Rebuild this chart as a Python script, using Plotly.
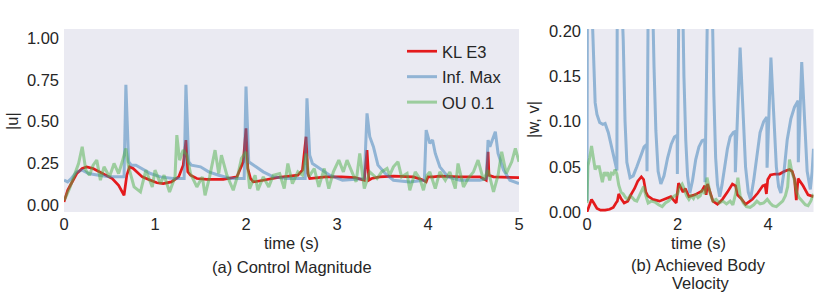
import plotly.graph_objects as go

# ---------------- data ----------------
# (a) Control magnitude |u|
kl_t = [0, 0.01, 0.04, 0.07, 0.14, 0.2, 0.25, 0.32, 0.43, 0.53, 0.6, 0.66, 0.69, 0.72, 0.76,
        0.8, 0.86, 0.95, 1.02, 1.09, 1.18, 1.26, 1.31, 1.34, 1.36, 1.39, 1.46, 1.57, 1.75, 1.9,
        1.97, 2.0, 2.02, 2.05, 2.08, 2.19, 2.34, 2.57, 2.62, 2.66, 2.68, 2.7, 2.76, 2.87, 3.05,
        3.2, 3.3, 3.33, 3.35, 3.38, 3.47, 3.62, 3.84, 3.93, 3.98, 4.0, 4.01, 4.06, 4.13, 4.35,
        4.57, 4.64, 4.66, 4.67, 4.72, 5.0]
kl_u = [0.02, 0.04, 0.09, 0.12, 0.19, 0.22, 0.23, 0.22, 0.19, 0.16, 0.12, 0.06, 0.18, 0.23, 0.22,
        0.2, 0.17, 0.15, 0.135, 0.13, 0.14, 0.17, 0.24, 0.39, 0.2, 0.18, 0.16, 0.155, 0.155, 0.17,
        0.26, 0.46, 0.22, 0.16, 0.14, 0.15, 0.165, 0.18, 0.21, 0.41, 0.19, 0.16, 0.165, 0.17, 0.17,
        0.165, 0.15, 0.33, 0.15, 0.16, 0.17, 0.175, 0.17, 0.155, 0.14, 0.17, 0.17, 0.17, 0.175, 0.17,
        0.17, 0.15, 0.32, 0.18, 0.17, 0.165]

im_t = [0, 0.04, 0.08, 0.14, 0.2, 0.27, 0.38, 0.5, 0.66, 0.68, 0.71, 0.74, 0.79, 0.86, 0.95,
        1.06, 1.2, 1.32, 1.34, 1.37, 1.40, 1.5, 1.59, 1.7, 1.83, 1.98, 2.0, 2.03, 2.06, 2.11,
        2.19, 2.3, 2.45, 2.65, 2.67, 2.70, 2.73, 2.81, 2.92, 3.06, 3.3, 3.33, 3.36, 3.40, 3.45,
        3.53, 3.62, 3.8, 3.96, 3.98, 4.02, 4.05, 4.08, 4.13, 4.22, 4.35, 4.57, 4.64, 4.66, 4.68,
        4.74, 4.77, 4.83, 4.9, 5.0]
im_u = [0.15, 0.14, 0.16, 0.2, 0.21, 0.19, 0.18, 0.17, 0.17, 0.72, 0.26, 0.24, 0.24, 0.22, 0.19,
        0.17, 0.16, 0.16, 0.72, 0.26, 0.24, 0.23, 0.2, 0.18, 0.16, 0.16, 0.71, 0.26, 0.25, 0.23,
        0.2, 0.17, 0.16, 0.16, 0.64, 0.3, 0.25, 0.22, 0.18, 0.15, 0.16, 0.55, 0.41, 0.35, 0.24,
        0.19, 0.15, 0.14, 0.15, 0.45, 0.37, 0.39, 0.31, 0.23, 0.17, 0.15, 0.15, 0.16, 0.39, 0.35,
        0.44, 0.31, 0.21, 0.15, 0.13]

ou_t = [0, 0.02, 0.06, 0.11, 0.16, 0.2, 0.24, 0.28, 0.32, 0.36, 0.4, 0.44, 0.5, 0.55, 0.6,
        0.64, 0.68, 0.71, 0.77, 0.84, 0.9, 0.97, 1.0, 1.06, 1.1, 1.16, 1.22, 1.24, 1.27, 1.31,
        1.35, 1.39, 1.46, 1.52, 1.55, 1.6, 1.66, 1.7, 1.73, 1.79, 1.86, 1.91, 1.95, 2.0, 2.04,
        2.1, 2.13, 2.19, 2.25, 2.3, 2.37, 2.42, 2.46, 2.51, 2.57, 2.62, 2.66, 2.69, 2.75, 2.8,
        2.86, 2.91, 2.96, 3.02, 3.07, 3.11, 3.16, 3.21, 3.25, 3.3, 3.36, 3.44, 3.49, 3.55, 3.58,
        3.62, 3.67, 3.71, 3.77, 3.8, 3.86, 3.91, 3.95, 3.99, 4.02, 4.08, 4.13, 4.19, 4.24, 4.3,
        4.33, 4.39, 4.44, 4.5, 4.55, 4.61, 4.66, 4.72, 4.77, 4.81, 4.86, 4.92, 4.96, 5.0]
ou_u = [0.03, 0.05, 0.1, 0.17, 0.25, 0.35, 0.21, 0.18, 0.24, 0.27, 0.15, 0.23, 0.17, 0.25, 0.19,
        0.26, 0.34, 0.23, 0.11, 0.08, 0.21, 0.11, 0.21, 0.13, 0.18, 0.08, 0.17, 0.42, 0.27, 0.33,
        0.3, 0.19, 0.11, 0.17, 0.06, 0.17, 0.33, 0.19, 0.3, 0.18, 0.09, 0.18, 0.28, 0.32, 0.1,
        0.18, 0.09, 0.17, 0.11, 0.18, 0.19, 0.1, 0.25, 0.13, 0.2, 0.18, 0.31, 0.17, 0.22, 0.11,
        0.22, 0.1, 0.2, 0.27, 0.2, 0.27, 0.21, 0.14, 0.31, 0.1, 0.2, 0.16, 0.2, 0.22, 0.18,
        0.23, 0.26, 0.17, 0.19, 0.09, 0.2, 0.16, 0.09, 0.18, 0.2, 0.1, 0.2, 0.15, 0.2, 0.1,
        0.25, 0.11, 0.16, 0.2, 0.27, 0.15, 0.21, 0.08, 0.18, 0.32, 0.19, 0.26, 0.34, 0.26]

# (b) Achieved body velocity |w, v|
kl_vt = [0, 0.05, 0.1, 0.15, 0.22, 0.3, 0.4, 0.5, 0.58, 0.64, 0.67, 0.7, 0.75, 0.82, 0.9,
         0.98, 1.05, 1.12, 1.2, 1.25, 1.3, 1.34, 1.45, 1.6, 1.72, 1.85, 1.93, 1.97, 2.02, 2.08,
         2.12, 2.17, 2.25, 2.38, 2.53, 2.6, 2.63, 2.66, 2.72, 2.78, 2.88, 2.99, 3.1, 3.21, 3.28,
         3.32, 3.4, 3.5, 3.65, 3.77, 3.88, 3.93, 3.96, 3.99, 4.05, 4.15, 4.25, 4.36, 4.47, 4.53,
         4.58, 4.62, 4.66, 4.77, 4.88, 5.0]
kl_v = [0.0, 0.008, 0.014, 0.01, 0.004, 0.002, 0.002, 0.003, 0.005, 0.01, 0.012, 0.02, 0.015, 0.01, 0.012,
        0.02, 0.026, 0.034, 0.039, 0.036, 0.022, 0.018, 0.014, 0.012, 0.014, 0.017, 0.012, 0.01, 0.032, 0.025,
        0.022, 0.026, 0.017, 0.019, 0.023, 0.029, 0.019, 0.031, 0.02, 0.012, 0.0085, 0.014, 0.022, 0.031, 0.029,
        0.019, 0.015, 0.0085, 0.014, 0.021, 0.029, 0.03, 0.02, 0.036, 0.041, 0.042, 0.042, 0.045, 0.047, 0.045,
        0.037, 0.013, 0.037, 0.029, 0.019, 0.017]

im_vt = [0, 0.01, 0.06, 0.12, 0.15, 0.18, 0.22, 0.28, 0.35, 0.40, 0.47, 0.55, 0.62, 0.66, 0.67,
         0.72, 0.80, 0.84, 0.88, 0.95, 1.02, 1.10, 1.18, 1.26, 1.32, 1.325, 1.36, 1.42, 1.48, 1.52,
         1.57, 1.63, 1.70, 1.78, 1.86, 1.93, 1.99, 1.995, 2.04, 2.09, 2.14, 2.18, 2.22, 2.27, 2.33,
         2.40, 2.47, 2.54, 2.60, 2.605, 2.68, 2.74, 2.80, 2.84, 2.88, 2.93, 2.98, 3.04, 3.10, 3.16,
         3.23, 3.27, 3.275, 3.38, 3.42, 3.46, 3.50, 3.56, 3.61, 3.68, 3.75, 3.82, 3.90, 3.97, 3.975,
         4.06, 4.10, 4.14, 4.18, 4.23, 4.28, 4.35, 4.42, 4.50, 4.58, 4.66, 4.665, 4.74, 4.78, 4.82,
         4.86, 4.93, 4.97, 5.0]
im_v = [0.012, 0.30, 0.30, 0.20, 0.158, 0.121, 0.108, 0.099, 0.097, 0.098, 0.088, 0.072, 0.055, 0.046, 0.30,
        0.30, 0.19, 0.10, 0.055, 0.038, 0.04, 0.05, 0.062, 0.072, 0.075, 0.045, 0.30, 0.30, 0.16, 0.09,
        0.045, 0.031, 0.04, 0.06, 0.075, 0.083, 0.085, 0.042, 0.30, 0.30, 0.15, 0.08, 0.04, 0.021, 0.035,
        0.058, 0.072, 0.079, 0.08, 0.033, 0.30, 0.30, 0.13, 0.06, 0.03, 0.017, 0.03, 0.051, 0.07, 0.083,
        0.088, 0.089, 0.044, 0.182, 0.132, 0.084, 0.05, 0.022, 0.014, 0.035, 0.065, 0.088, 0.1, 0.105, 0.049,
        0.171, 0.13, 0.085, 0.05, 0.028, 0.021, 0.045, 0.08, 0.103, 0.116, 0.123, 0.055, 0.166, 0.125, 0.08,
        0.045, 0.025, 0.045, 0.07]

ou_vt = [0, 0.02, 0.06, 0.1, 0.14, 0.18, 0.22, 0.27, 0.31, 0.34, 0.38, 0.42, 0.46, 0.5, 0.54,
         0.58, 0.62, 0.66, 0.7, 0.75, 0.8, 0.85, 0.9, 0.95, 1.0, 1.05, 1.1, 1.15, 1.2, 1.25,
         1.3, 1.35, 1.42, 1.5, 1.58, 1.66, 1.73, 1.8, 1.88, 1.95, 2.0, 2.05, 2.1, 2.15, 2.2,
         2.25, 2.3, 2.35, 2.4, 2.45, 2.5, 2.55, 2.6, 2.65, 2.68, 2.72, 2.78, 2.85, 2.92, 3.0,
         3.08, 3.16, 3.22, 3.28, 3.33, 3.38, 3.45, 3.52, 3.6, 3.68, 3.75, 3.82, 3.9, 3.98, 4.04,
         4.1, 4.18, 4.25, 4.32, 4.38, 4.43, 4.47, 4.52, 4.58, 4.63, 4.68, 4.75, 4.82, 4.88, 4.94,
         5.0]
ou_v = [0.01, 0.051, 0.06, 0.073, 0.06, 0.047, 0.05, 0.05, 0.04, 0.033, 0.044, 0.04, 0.044, 0.035, 0.043,
        0.042, 0.047, 0.042, 0.03, 0.022, 0.02, 0.016, 0.014, 0.018, 0.016, 0.013, 0.012, 0.018, 0.023, 0.028,
        0.018, 0.01, 0.012, 0.011, 0.008, 0.006, 0.01, 0.012, 0.016, 0.018, 0.02, 0.028, 0.031, 0.025, 0.018,
        0.014, 0.018, 0.015, 0.02, 0.016, 0.018, 0.025, 0.02, 0.038, 0.028, 0.02, 0.012, 0.014, 0.01, 0.012,
        0.009, 0.012, 0.008, 0.02, 0.038, 0.018, 0.01, 0.006, 0.005, 0.008, 0.012, 0.009, 0.01, 0.014, 0.01,
        0.007, 0.006, 0.009, 0.012, 0.018, 0.028, 0.058, 0.045, 0.035, 0.022, 0.016, 0.012, 0.008, 0.007, 0.012,
        0.02]

series_names = ["KL E3", "Inf. Max", "OU 0.1"]
xticks_a = [0, 1, 2, 3, 4, 5]
yticks_a = [0.0, 0.25, 0.5, 0.75, 1.0]
xticks_b = [0, 2, 4]
yticks_b = [0.0, 0.05, 0.10, 0.15, 0.20]

for a, b in [(kl_t, kl_u), (im_t, im_u), (ou_t, ou_u), (kl_vt, kl_v), (im_vt, im_v), (ou_vt, ou_v)]:
    assert len(a) == len(b), (len(a), len(b))

# ---------------- styling ----------------
W, H = 830, 292
FONT = "Liberation Sans, Arial, sans-serif"
FS = 16.5
TXT = "#262626"
BG = "#EAEAF2"
COLORS = ["#e41a1c", "rgba(55,126,184,0.5)", "rgba(77,175,74,0.5)"]
WIDTHS = [2.7, 3.0, 3.0]

def fx(p):
    return p / W

def fy(p):
    return 1 - p / H

fig = go.Figure()
left = [(kl_t, kl_u), (im_t, im_u), (ou_t, ou_u)]
right = [(kl_vt, kl_v), (im_vt, im_v), (ou_vt, ou_v)]
for i, (t, v) in enumerate(left):
    fig.add_trace(go.Scatter(x=t, y=v, mode="lines", name=series_names[i],
                             legendgroup="g%d" % i,
                             line=dict(color=COLORS[i], width=WIDTHS[i]),
                             xaxis="x", yaxis="y"))
for i, (t, v) in enumerate(right):
    fig.add_trace(go.Scatter(x=t, y=v, mode="lines", name=series_names[i],
                             legendgroup="g%d" % i, showlegend=False,
                             line=dict(color=COLORS[i], width=WIDTHS[i]),
                             xaxis="x2", yaxis="y2"))

ydom = [fy(212), fy(29)]
axis_common = dict(showgrid=False, zeroline=False, showline=False, ticks="",
                   tickfont=dict(family=FONT, size=FS, color=TXT))
fig.update_layout(
    width=W, height=H,
    margin=dict(l=0, r=0, t=0, b=0, autoexpand=False),
    paper_bgcolor="white", plot_bgcolor=BG,
    font=dict(family=FONT, size=FS, color=TXT),
    xaxis=dict(domain=[fx(64), fx(519)], range=[0, 5], tickvals=xticks_a,
               ticktext=[str(v) for v in xticks_a], anchor="y", **axis_common),
    yaxis=dict(domain=ydom, range=[-0.04, 1.054], tickvals=yticks_a, ticklabelstandoff=4,
               ticktext=["%.2f" % v for v in yticks_a], anchor="x", **axis_common),
    xaxis2=dict(domain=[fx(587), fx(813.5)], range=[0, 5], tickvals=xticks_b,
                ticktext=[str(v) for v in xticks_b], anchor="y2", **axis_common),
    yaxis2=dict(domain=ydom, range=[0, 0.2025], tickvals=yticks_b, ticklabelstandoff=5,
                ticktext=["%.2f" % v for v in yticks_b], anchor="x2", **axis_common),
    legend=dict(x=fx(402), y=fy(34), xanchor="left", yanchor="top",
                bgcolor="rgba(0,0,0,0)", font=dict(family=FONT, size=FS, color=TXT),
                tracegroupgap=1),
    showlegend=True,
)

ann = [
    (291.5, 243, "time (s)", 0),
    (292, 267, "(a) Control Magnitude", 0),
    (698, 243, "time (s)", 0),
    (698, 265, "(b) Achieved Body", 0),
    (701, 283, "Velocity", 0),
    (12, 121, "|u|", -90),
    (533, 120, "|w, v|", -90),
]
for x, y, text, ang in ann:
    fig.add_annotation(x=fx(x), y=fy(y), xref="paper", yref="paper", text=text,
                       showarrow=False, xanchor="center", yanchor="middle",
                       textangle=ang, font=dict(family=FONT, size=FS, color=TXT))

fig.write_html("out.html", config={"displayModeBar": False},
               post_script="document.body.style.margin='0';document.body.style.overflow='hidden';")
